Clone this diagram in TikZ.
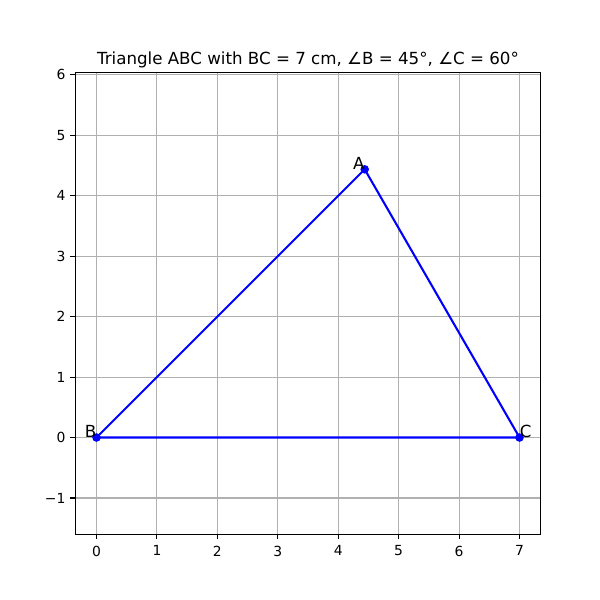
\documentclass[tikz,border=0pt]{standalone}
\usepackage{fontspec}
\setmainfont{DejaVu Sans}
\definecolor{gridgray}{HTML}{B0B0B0}
\definecolor{triblue}{HTML}{0000FF}
\begin{document}
\begin{tikzpicture}[x=43.51pt,y=43.51pt,
  gridline/.style={draw=gridgray,line width=0.8pt},
  spine/.style={draw=black,line width=0.8pt},
  tick/.style={draw=black,line width=0.8pt},
  ticklabel/.style={inner sep=0pt,font=\fontsize{10}{12}\selectfont},
  tri/.style={draw=triblue,line width=1.5pt,line join=round},
  ptlabel/.style={inner sep=0pt,font=\fontsize{12}{14}\selectfont},
  titlestyle/.style={inner sep=0pt,font=\fontsize{12}{14}\selectfont}]
\useasboundingbox (-1.5969,-2.6887) rectangle (8.3317,7.2398);
% axes corners
\coordinate (LL) at (-0.35,-1.603);
\coordinate (UR) at (7.35,6.042);
% grid
\foreach \i in {0,...,7} \draw[gridline] (\i,-1.603) -- (\i,6.042);
\foreach \j in {-1,...,6} \draw[gridline] (-0.35,\j) -- (7.35,\j);
% ticks and labels
\foreach \i in {0,...,7} {
  \draw[tick] (\i,-1.603) -- ++(0,-3.5pt);
  \node[ticklabel,anchor=north] (xl\i) at ([yshift=-8pt]\i,-1.603) {\i};
}
\foreach \j/\t in {-1/{−1},0/0,1/1,2/2,3/3,4/4,5/5,6/6} {
  \draw[tick] (-0.35,\j) -- ++(-3.5pt,0);
  \node[ticklabel,anchor=east] (yl\j) at ([xshift=-7pt]-0.35,\j) {\t};
}
% spines
\draw[spine] (LL) rectangle (UR);
% title
\node[titlestyle,anchor=base] (title) at ([yshift=5.8pt]3.5,6.042) {Triangle ABC with BC = 7 cm, ∠B = 45°, ∠C = 60°};
% triangle
\coordinate (B) at (0,0);
\coordinate (C) at (7,0);
\coordinate (A) at (4.4378,4.4378);
\draw[tri] (B) -- (C) -- (A) -- cycle;
\foreach \p in {A,B,C} \fill[triblue] (\p) circle (3.1pt);
\node[ptlabel,anchor=base east] (lA) at (A) {A};
\node[ptlabel,anchor=base east] (lB) at (B) {B};
\node[ptlabel,anchor=base west] (lC) at (C) {C};
\end{tikzpicture}
\end{document}
